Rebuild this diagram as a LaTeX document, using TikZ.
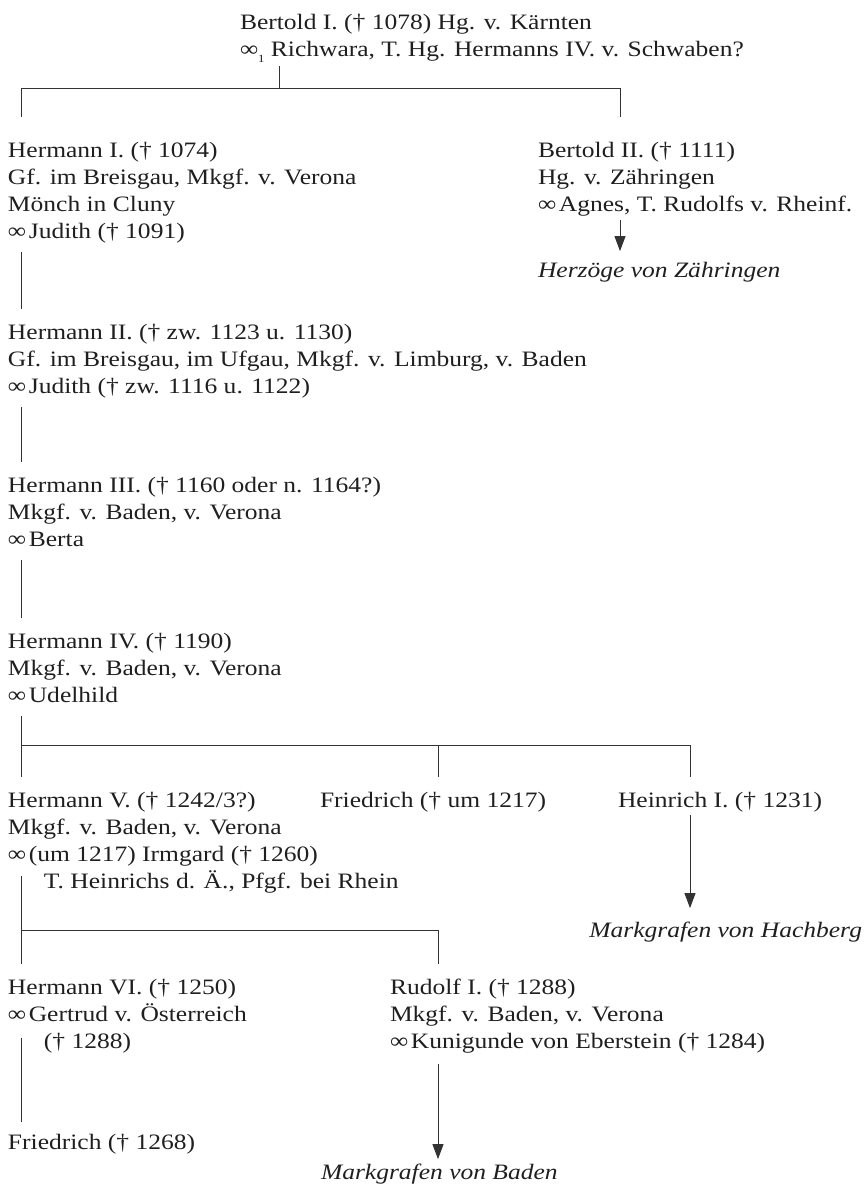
\documentclass[tikz,border=0pt]{standalone}
\usepackage{fontspec}
\setmainfont{Liberation Serif}[FakeStretch=1.16]
\usetikzlibrary{arrows.meta}
\newcommand{\ms}{∞\hspace{0.12em}}
\newcommand{\ind}{\hspace*{36pt}}
\newcommand{\tb}[1]{\begin{tabular}[t]{@{}l@{}}#1\end{tabular}}
\begin{document}
\begin{tikzpicture}[x=1pt,y=-1pt,
  person/.style={anchor=base west, inner sep=0pt, outer sep=0pt, text=black!88,
    font=\fontsize{22}{27}\selectfont},
  link/.style={draw=black!80, line width=0.9pt},
  arr/.style={link, -{Triangle[length=15pt,width=11pt]}}]
\useasboundingbox (0,0) rectangle (865,1187);

% column coordinates
\coordinate (cA) at (21,0);
\coordinate (cB) at (620,0);
\coordinate (cC) at (438,0);
\coordinate (cD) at (690,0);
\coordinate (cT) at (279,0);
\coordinate (bar1) at (279,88);
\coordinate (bar1L) at (21,88);
\coordinate (bar1R) at (620,88);
\coordinate (bar2L) at (21,745);
\coordinate (bar2R) at (690,745);
\coordinate (bar3L) at (21,930);
\coordinate (bar3R) at (438,930);

% persons
\node[person] (b1) at (240,29) {\tb{Bertold I. († 1078) Hg. v. Kärnten\\
  ∞\raisebox{-0.28em}{\fontsize{11}{11}\selectfont 1} Richwara, T. Hg. Hermanns IV. v. Schwaben?}};
\node[person] (h1) at (8,157) {\tb{Hermann I. († 1074)\\Gf. im Breisgau, Mkgf. v. Verona\\Mönch in Cluny\\\ms Judith († 1091)}};
\node[person] (b2) at (538,157) {\tb{Bertold II. († 1111)\\Hg. v. Zähringen\\\ms Agnes, T. Rudolfs v. Rheinf.}};
\node[person] (hz) at (538,277) {\tb{\itshape Herzöge von Zähringen}};
\node[person] (h2) at (8,339) {\tb{Hermann II. († zw. 1123 u. 1130)\\Gf. im Breisgau, im Ufgau, Mkgf. v. Limburg, v. Baden\\\ms Judith († zw. 1116 u. 1122)}};
\node[person] (h3) at (8,492) {\tb{Hermann III. († 1160 oder n. 1164?)\\Mkgf. v. Baden, v. Verona\\\ms Berta}};
\node[person] (h4) at (8,648) {\tb{Hermann IV. († 1190)\\Mkgf. v. Baden, v. Verona\\\ms Udelhild}};
\node[person] (h5) at (8,807) {\tb{Hermann V. († 1242/3?)\\Mkgf. v. Baden, v. Verona\\\ms (um 1217) Irmgard († 1260)\\\ind T. Heinrichs d. Ä., Pfgf. bei Rhein}};
\node[person] (f1) at (320,807) {\tb{Friedrich († um 1217)}};
\node[person] (hn) at (618,807) {\tb{Heinrich I. († 1231)}};
\node[person, anchor=base east] (hb) at (862,937) {\tb{\itshape Markgrafen von Hachberg}};
\node[person] (h6) at (8,994) {\tb{Hermann VI. († 1250)\\\ms Gertrud v. Österreich\\\ind († 1288)}};
\node[person] (r1) at (390,994) {\tb{Rudolf I. († 1288)\\Mkgf. v. Baden, v. Verona\\\ms Kunigunde von Eberstein († 1284)}};
\node[person] (fr) at (8,1149) {\tb{Friedrich († 1268)}};
\node[person] (mb) at (321,1179) {\tb{\itshape Markgrafen von Baden}};

% connectors
\draw[link, shorten <=2pt] (b1.south -| cT) -- (bar1);
\draw[link] (bar1L) -- (bar1R);
\draw[link, shorten >=21pt] (bar1L) -- (bar1L |- h1.north);
\draw[link, shorten >=21pt] (bar1R) -- (bar1R |- b2.north);
\draw[arr, shorten <=1pt, shorten >=7pt] (b2.south -| cB) -- (hz.north -| cB);
\draw[link, shorten <=6pt, shorten >=11pt] (h1.south -| cA) -- (h2.north -| cA);
\draw[link, shorten <=6pt, shorten >=11pt] (h2.south -| cA) -- (h3.north -| cA);
\draw[link, shorten <=6pt, shorten >=11pt] (h3.south -| cA) -- (h4.north -| cA);
\draw[link, shorten <=6pt, shorten >=11pt] (h4.south -| cA) -- (h5.north -| cA);
\draw[link] (bar2L) -- (bar2R);
\draw[link, shorten >=11pt] (bar2R) -- (bar2R |- hn.north);
\draw[link, shorten >=11pt] (bar2L -| cC) -- (cC |- f1.north);
\draw[arr, shorten >=10pt] (hn.south -| cD) -- (hb.north -| cD);
\draw[link, shorten <=-20pt, shorten >=11pt] (h5.south -| cA) -- (h6.north -| cA);
\draw[link] (bar3L) -- (bar3R);
\draw[link, shorten >=11pt] (bar3R) -- (bar3R |- r1.north);
\draw[arr, shorten <=8pt, shorten >=1pt] (r1.south -| cC) -- (mb.north -| cC);
\draw[link, shorten <=-18pt, shorten >=8pt] (h6.south -| cA) -- (fr.north -| cA);
\end{tikzpicture}
\end{document}
